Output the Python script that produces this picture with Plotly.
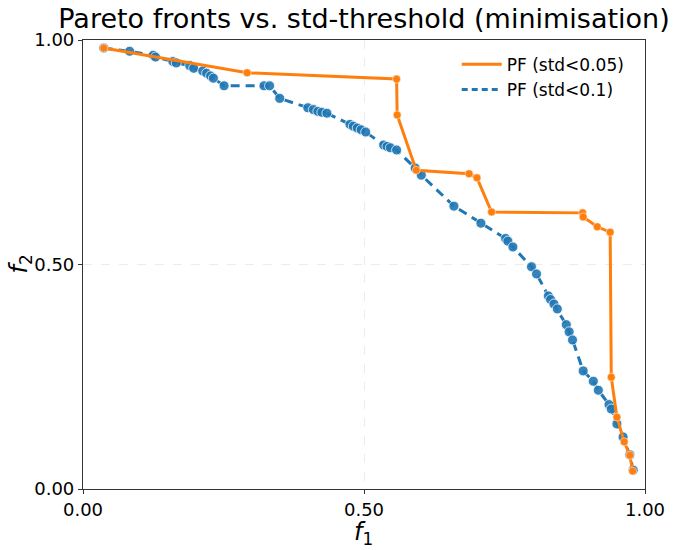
import plotly.graph_objects as go

# PF (std<0.05)
pf05_f1 = [0.037, 0.292, 0.558, 0.559, 0.593, 0.687, 0.701, 0.727, 0.889, 0.890,
           0.915, 0.938, 0.940, 0.950, 0.963, 0.973, 0.978]
pf05_f2 = [0.982, 0.927, 0.913, 0.833, 0.710, 0.702, 0.693, 0.617, 0.615, 0.606,
           0.584, 0.572, 0.249, 0.160, 0.105, 0.075, 0.040]

# PF (std<0.1)
pf10_f1 = [0.037, 0.083, 0.125, 0.129, 0.160, 0.166, 0.190, 0.197, 0.213, 0.220,
           0.227, 0.232, 0.251, 0.322, 0.332, 0.350, 0.400, 0.410, 0.418, 0.425,
           0.434, 0.475, 0.481, 0.488, 0.495, 0.503, 0.535, 0.541, 0.547, 0.558,
           0.591, 0.602, 0.660, 0.708, 0.752, 0.756, 0.765, 0.798, 0.807, 0.828,
           0.832, 0.838, 0.844, 0.860, 0.865, 0.871, 0.890, 0.908, 0.917, 0.936,
           0.940, 0.950, 0.961, 0.973, 0.979]
pf10_f2 = [0.982, 0.975, 0.966, 0.962, 0.952, 0.949, 0.943, 0.937, 0.931, 0.926,
           0.920, 0.915, 0.898, 0.898, 0.898, 0.870, 0.849, 0.845, 0.841, 0.839,
           0.837, 0.812, 0.808, 0.804, 0.800, 0.795, 0.766, 0.763, 0.760, 0.755,
           0.715, 0.699, 0.630, 0.592, 0.558, 0.552, 0.539, 0.495, 0.479, 0.430,
           0.422, 0.412, 0.401, 0.366, 0.350, 0.332, 0.263, 0.240, 0.220, 0.188,
           0.178, 0.145, 0.116, 0.076, 0.042]

ticks = [0.0, 0.5, 1.0]
tick_labels = ["0.00", "0.50", "1.00"]

ORANGE = "#ff7f0e"
BLUE = "#1f77b4"
FONT = "DejaVu Sans"
DASH = "9px,6px"

fig = go.Figure()
fig.add_trace(go.Scatter(
    x=pf10_f1, y=pf10_f2, mode="lines+markers", name="PF (std<0.1)",
    showlegend=False,
    line=dict(color=BLUE, width=3, dash=DASH),
    marker=dict(color=BLUE, size=10, opacity=0.9, line=dict(color="white", width=0.8)),
))
fig.add_trace(go.Scatter(
    x=pf05_f1, y=pf05_f2, mode="lines+markers", name="PF (std<0.05)",
    showlegend=False,
    line=dict(color=ORANGE, width=3),
    marker=dict(color=ORANGE, size=8, line=dict(color="white", width=0.5)),
))
# legend entries (line-only samples, like the reference)
fig.add_trace(go.Scatter(x=[None], y=[None], mode="lines", name="PF (std<0.05)",
                         line=dict(color=ORANGE, width=3)))
fig.add_trace(go.Scatter(x=[None], y=[None], mode="lines", name="PF (std<0.1)",
                         line=dict(color=BLUE, width=3, dash="6px,4px")))

axis_common = dict(
    range=[0, 1], tickvals=ticks, ticktext=tick_labels,
    showline=True, linecolor="#333333", linewidth=1.2, mirror=True,
    ticks="outside", ticklen=4, tickcolor="#333333", tickwidth=1,
    showgrid=True, gridcolor="#ececec", griddash="dash", gridwidth=0.8,
    zeroline=False, tickfont=dict(size=18, color="black", family=FONT),
)

fig.update_layout(
    width=677, height=550,
    margin=dict(l=83, r=29, t=40, b=61),
    paper_bgcolor="white", plot_bgcolor="white",
    font=dict(family=FONT, color="black"),
    title=dict(text="Pareto fronts vs. std-threshold (minimisation)",
               xref="paper", x=0.5, xanchor="center", y=0.966, yanchor="middle",
               font=dict(size=27, family=FONT, color="black")),
    xaxis=dict(**axis_common),
    yaxis=dict(**axis_common),
    legend=dict(x=0.665, y=0.985, xanchor="left", yanchor="top",
                bgcolor="rgba(255,255,255,0.8)", borderwidth=0,
                tracegroupgap=2, itemwidth=40,
                font=dict(size=17, family=FONT)),
    showlegend=True,
    annotations=[
        dict(text="<i>f</i><sub>1</sub>", xref="paper", yref="paper",
             x=(365 - 83) / 565, y=-0.10, xanchor="center", yanchor="middle",
             showarrow=False, font=dict(size=24, family=FONT)),
        dict(text="<i>f</i><sub>2</sub>", xref="paper", yref="paper",
             x=-0.112, y=0.5, xanchor="center", yanchor="middle", textangle=-90,
             showarrow=False, font=dict(size=24, family=FONT)),
    ],
)

fig.write_html("out.html")
